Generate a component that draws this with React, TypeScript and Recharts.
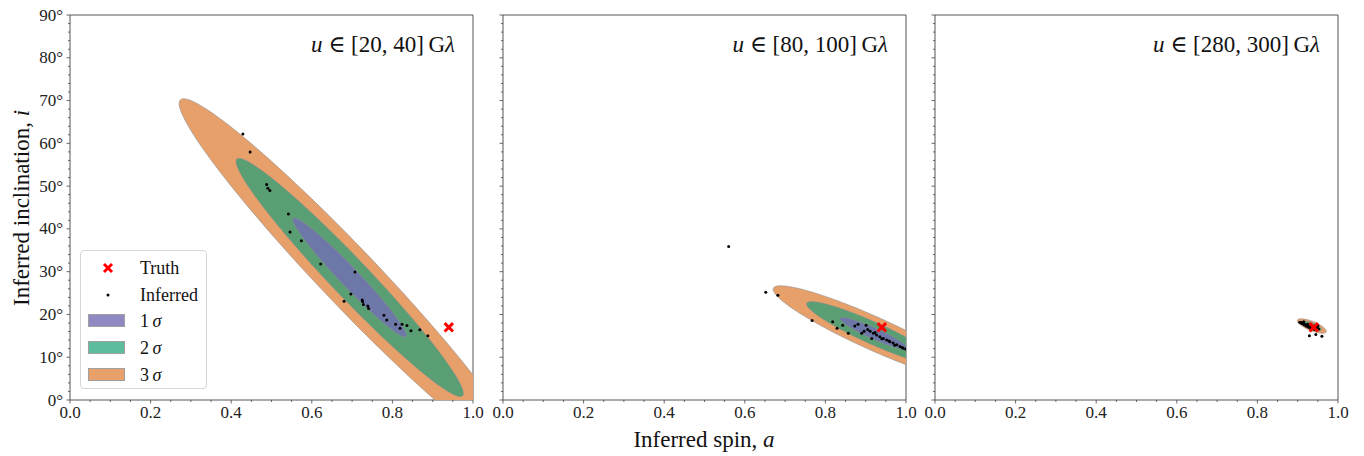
import React from 'react';
import { ScatterChart, Scatter, XAxis, YAxis, ReferenceArea } from 'recharts';

// tick labels
const xMajorTicks = [0, 0.2, 0.4, 0.6, 0.8, 1.0];
const xTickLabels = ['0.0', '0.2', '0.4', '0.6', '0.8', '1.0'];
const yMajorTicks = [0, 10, 20, 30, 40, 50, 60, 70, 80, 90];
const yTickLabels = ['0°', '10°', '20°', '30°', '40°', '50°', '60°', '70°', '80°', '90°'];
const xMinorTicks = Array.from({ length: 21 }, (_, n) => n / 20);
const yMinorTicks = Array.from({ length: 46 }, (_, n) => n * 2);

// baseline ranges per panel (G lambda)
const uRanges = [['20', '40'], ['80', '100'], ['280', '300']];

const truth = [{ a: 0.94, i: 17.0 }];

const inferred20to40 = [
  { a: 0.429, i: 62.2 }, { a: 0.447, i: 58.0 }, { a: 0.488, i: 50.4 }, { a: 0.491, i: 49.5 },
  { a: 0.496, i: 49.0 }, { a: 0.542, i: 43.5 }, { a: 0.546, i: 39.3 }, { a: 0.574, i: 37.2 },
  { a: 0.622, i: 31.8 }, { a: 0.707, i: 29.9 }, { a: 0.697, i: 24.8 }, { a: 0.680, i: 23.1 },
  { a: 0.725, i: 23.4 }, { a: 0.726, i: 23.0 }, { a: 0.728, i: 22.3 }, { a: 0.739, i: 22.0 },
  { a: 0.741, i: 21.4 }, { a: 0.779, i: 19.8 }, { a: 0.786, i: 18.7 }, { a: 0.808, i: 17.7 },
  { a: 0.819, i: 16.8 }, { a: 0.824, i: 17.7 }, { a: 0.836, i: 17.4 }, { a: 0.846, i: 16.2 },
  { a: 0.868, i: 16.4 }, { a: 0.888, i: 15.0 },
];

const inferred80to100 = [
  { a: 0.560, i: 35.9 }, { a: 0.652, i: 25.2 }, { a: 0.682, i: 24.5 }, { a: 0.767, i: 18.6 },
  { a: 0.818, i: 18.3 }, { a: 0.829, i: 16.8 }, { a: 0.843, i: 17.5 }, { a: 0.857, i: 15.6 },
  { a: 0.873, i: 17.3 }, { a: 0.881, i: 17.7 }, { a: 0.890, i: 15.6 }, { a: 0.896, i: 16.1 },
  { a: 0.901, i: 17.5 }, { a: 0.915, i: 14.4 }, { a: 0.911, i: 16.1 }, { a: 0.919, i: 15.6 },
  { a: 0.927, i: 15.2 }, { a: 0.935, i: 14.8 }, { a: 0.944, i: 14.4 }, { a: 0.952, i: 14.0 },
  { a: 0.960, i: 13.6 }, { a: 0.968, i: 13.3 }, { a: 0.977, i: 12.9 }, { a: 0.985, i: 12.5 },
  { a: 0.993, i: 12.1 }, { a: 0.999, i: 11.9 }, { a: 0.905, i: 16.5 }, { a: 0.923, i: 15.8 },
  { a: 0.940, i: 14.3 }, { a: 0.958, i: 13.8 }, { a: 0.972, i: 12.8 }, { a: 0.990, i: 12.3 },
];

const inferred280to300 = [
  { a: 0.905, i: 18.2 }, { a: 0.908, i: 18.0 }, { a: 0.910, i: 18.1 }, { a: 0.912, i: 17.8 },
  { a: 0.914, i: 17.9 }, { a: 0.916, i: 17.6 }, { a: 0.918, i: 17.7 }, { a: 0.920, i: 17.5 },
  { a: 0.921, i: 17.3 }, { a: 0.923, i: 17.4 }, { a: 0.925, i: 17.2 }, { a: 0.927, i: 17.0 },
  { a: 0.929, i: 17.1 }, { a: 0.931, i: 16.9 }, { a: 0.933, i: 17.2 }, { a: 0.935, i: 16.8 },
  { a: 0.938, i: 16.9 }, { a: 0.940, i: 16.7 }, { a: 0.942, i: 16.5 }, { a: 0.915, i: 18.3 },
  { a: 0.925, i: 17.7 }, { a: 0.935, i: 17.4 }, { a: 0.945, i: 17.5 }, { a: 0.950, i: 17.4 },
  { a: 0.948, i: 17.0 }, { a: 0.952, i: 16.6 },
  { a: 0.929, i: 15.0 }, { a: 0.945, i: 15.3 }, { a: 0.960, i: 14.9 },
];

const inferredByPanel = [inferred20to40, inferred80to100, inferred280to300];

// 1-sigma ellipse: centre, major semi-axis vector, minor semi-axis vector (spin, degrees)
const ellipseCenter = [[0.694, 28.64], [0.919, 15.6], [0.935, 17.3]];
const ellipseMajor = [[0.140, -13.84], [0.0827, -3.51], [0.0119, -0.456]];
const ellipseMinor = [[0.0171, 1.53], [0.0056, 1.17], [0.00146, 0.335]];

const sigmaLevels = [3, 2, 1];
const sigmaFill: Record<number, string> = { 1: '#6d77a8', 2: '#5a9e74', 3: '#e8a06a' };
const legendFill: Record<number, string> = { 1: '#8e89c2', 2: '#5dbb9e', 3: '#e8a16b' };

const panelLeft = [70, 503, 935];
const PLOT_W = 403;
const SERIF = '"Liberation Serif", "DejaVu Serif", serif';
const AXIS = '#444';

function ellipseOutline(panel: number, k: number) {
  const [ca, ci] = ellipseCenter[panel];
  const [ma, mi] = ellipseMajor[panel];
  const [na, ni] = ellipseMinor[panel];
  return Array.from({ length: 145 }, (_, n) => {
    const t = (2 * Math.PI * n) / 144;
    return {
      a: ca + k * (ma * Math.cos(t) + na * Math.sin(t)),
      i: ci + k * (mi * Math.cos(t) + ni * Math.sin(t)),
    };
  });
}

const filledOutline = (fill: string) => (props: any) => {
  const pts = props.points || [];
  const d = pts.map((p: any, n: number) => `${n ? 'L' : 'M'}${p.x},${p.y}`).join('') + 'Z';
  return <path d={d} fill={fill} stroke="#8f8f8f" strokeWidth={0.6} />;
};

const noPoint = () => <g />;

const TruthMark = (props: any) => {
  const { cx, cy } = props;
  const s = 4.2;
  return (
    <g>
      <line x1={cx - s} y1={cy - s} x2={cx + s} y2={cy + s} stroke="#ff0000" strokeWidth={3} />
      <line x1={cx - s} y1={cy + s} x2={cx + s} y2={cy - s} stroke="#ff0000" strokeWidth={3} />
    </g>
  );
};

const Dot = (props: any) => <circle cx={props.cx} cy={props.cy} r={1.5} fill="#000" />;

function XTick(props: any) {
  const { x, y, payload } = props;
  const idx = xMajorTicks.findIndex((v) => Math.abs(v - payload.value) < 1e-6);
  const major = idx >= 0;
  return (
    <g>
      <line x1={x} x2={x} y1={y} y2={y + (major ? 3.5 : 2)} stroke={AXIS} strokeWidth={0.8} />
      {major && (
        <text x={x} y={y + 18} textAnchor="middle" fontFamily={SERIF} fontSize={17} fill="#222">
          {xTickLabels[idx]}
        </text>
      )}
    </g>
  );
}

const makeYTick = (showLabel: boolean) => (props: any) => {
  const { x, y, payload } = props;
  const idx = yMajorTicks.findIndex((v) => Math.abs(v - payload.value) < 1e-6);
  const major = idx >= 0;
  return (
    <g>
      <line x1={x} x2={x - (major ? 3.5 : 2)} y1={y} y2={y} stroke={AXIS} strokeWidth={0.8} />
      {major && showLabel && (
        <text x={x - 7} y={y + 5.5} textAnchor="end" fontFamily={SERIF} fontSize={17} fill="#222">
          {yTickLabels[idx]}
        </text>
      )}
    </g>
  );
};

function Panel({ index }: { index: number }) {
  const left = panelLeft[index];
  return (
    <div style={{ position: 'absolute', left: 0, top: 0 }}>
      <ScatterChart
        width={1364}
        height={456}
        margin={{ top: 15, right: 1364 - left - PLOT_W, bottom: 26, left: left - 60 }}
      >
        <XAxis
          type="number"
          dataKey="a"
          domain={[0, 1]}
          allowDataOverflow
          ticks={xMinorTicks}
          interval={0}
          tickSize={0}
          tickMargin={0}
          tickLine={false}
          axisLine={false}
          tick={XTick}
          height={30}
        />
        <YAxis
          type="number"
          dataKey="i"
          domain={[0, 90]}
          allowDataOverflow
          ticks={yMinorTicks}
          interval={0}
          tickSize={0}
          tickMargin={0}
          tickLine={false}
          axisLine={false}
          tick={makeYTick(index === 0)}
          width={60}
        />
        {sigmaLevels.map((k) => (
          <Scatter
            key={k}
            data={ellipseOutline(index, k)}
            shape={noPoint}
            line={filledOutline(sigmaFill[k])}
            isAnimationActive={false}
          />
        ))}
        <Scatter data={inferredByPanel[index]} shape={Dot} isAnimationActive={false} />
        <Scatter data={truth} shape={TruthMark} isAnimationActive={false} />
        <ReferenceArea
          x1={0}
          x2={1}
          y1={0}
          y2={90}
          fill="none"
          fillOpacity={0}
          stroke={AXIS}
          strokeWidth={0.9}
          ifOverflow="visible"
        />
      </ScatterChart>
      <div
        style={{
          position: 'absolute',
          left: left,
          width: PLOT_W - 18,
          top: 30,
          textAlign: 'right',
          fontFamily: SERIF,
          fontSize: 23,
          lineHeight: '30px',
          color: '#111',
          whiteSpace: 'nowrap',
        }}
      >
        <i>u</i> ∈ [{uRanges[index][0]}, {uRanges[index][1]}]&thinsp;G<i>λ</i>
      </div>
    </div>
  );
}

function LegendBox() {
  const rowH = 26.7;
  const rows = [
    { key: 'truth', label: <span>Truth</span> },
    { key: 'inferred', label: <span>Inferred</span> },
    ...[1, 2, 3].map((k) => ({ key: `s${k}`, label: <span>{k}&thinsp;<i>σ</i></span> })),
  ];
  return (
    <div
      style={{
        position: 'absolute',
        left: 80,
        top: 250,
        width: 125,
        height: 137,
        border: '1px solid #d6d6d6',
        borderRadius: 4,
        background: 'rgba(255,255,255,0.85)',
        fontFamily: SERIF,
        fontSize: 18,
        color: '#111',
      }}
    >
      {rows.map((r, n) => {
        const cy = 17 + n * rowH;
        let marker: React.ReactNode = null;
        if (r.key === 'truth') {
          marker = (
            <svg width={14} height={14} style={{ position: 'absolute', left: 20, top: cy - 7 }}>
              <line x1={3} y1={3} x2={11} y2={11} stroke="#ff0000" strokeWidth={3} />
              <line x1={3} y1={11} x2={11} y2={3} stroke="#ff0000" strokeWidth={3} />
            </svg>
          );
        } else if (r.key === 'inferred') {
          marker = (
            <svg width={6} height={6} style={{ position: 'absolute', left: 24, top: cy - 3 }}>
              <circle cx={3} cy={3} r={1.5} fill="#000" />
            </svg>
          );
        } else {
          const k = Number(r.key.slice(1));
          marker = (
            <div
              style={{
                position: 'absolute',
                left: 7,
                top: cy - 7,
                width: 37,
                height: 13,
                background: legendFill[k],
                border: '1px solid #a0a0a0',
                boxSizing: 'border-box',
              }}
            />
          );
        }
        return (
          <React.Fragment key={r.key}>
            {marker}
            <div style={{ position: 'absolute', left: 59, top: cy - 11, lineHeight: '22px', whiteSpace: 'nowrap' }}>
              {r.label}
            </div>
          </React.Fragment>
        );
      })}
    </div>
  );
}

export default function App() {
  return (
    <div style={{ position: 'absolute', left: 0, top: 0, width: 1364, height: 456, background: '#fff' }}>
      {[0, 1, 2].map((n) => (
        <Panel key={n} index={n} />
      ))}
      <LegendBox />
      <div
        style={{
          position: 'absolute',
          left: 504,
          width: 400,
          top: 425,
          textAlign: 'center',
          fontFamily: SERIF,
          fontSize: 23,
          lineHeight: '30px',
          color: '#111',
        }}
      >
        Inferred spin, <i>a</i>
      </div>
      <div
        style={{
          position: 'absolute',
          left: 22 - 150,
          top: 208 - 15,
          width: 300,
          textAlign: 'center',
          transform: 'rotate(-90deg)',
          fontFamily: SERIF,
          fontSize: 23,
          lineHeight: '30px',
          color: '#111',
        }}
      >
        Inferred inclination, <i>i</i>
      </div>
    </div>
  );
}
